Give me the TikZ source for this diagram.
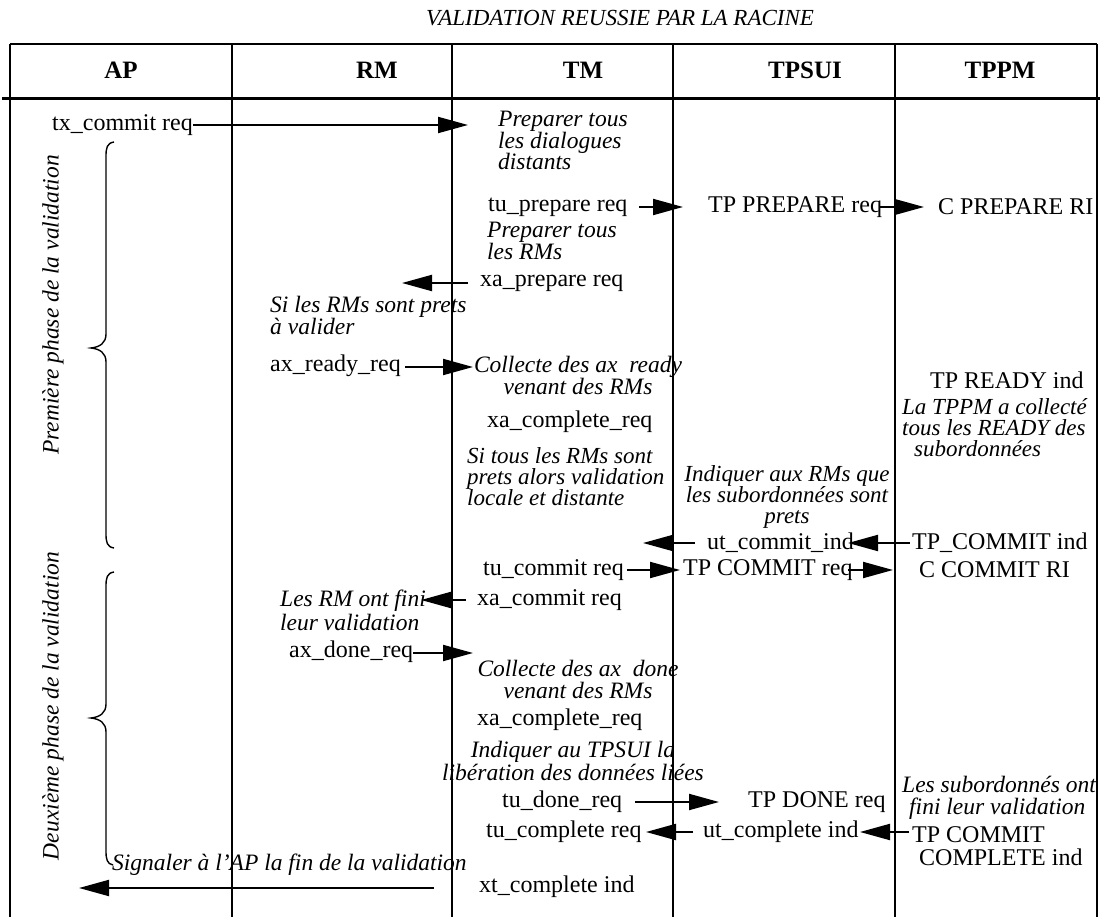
\documentclass[tikz,border=0pt]{standalone}
\usepackage{fontspec}
\setmainfont{Liberation Serif}
\usetikzlibrary{arrows.meta}
\begin{document}
\begin{tikzpicture}[x=1pt,y=-1pt,
  rm/.style={font=\fontsize{24}{23}\selectfont, inner sep=0pt},
  itx/.style={font=\fontsize{23.5}{21.5}\selectfont\itshape, inner sep=0pt},
  itt/.style={font=\fontsize{23}{21}\selectfont\itshape, inner sep=0pt},
  hd/.style={font=\fontsize{25}{25}\selectfont\bfseries, inner sep=0pt},
  ttl/.style={font=\fontsize{23}{23}\selectfont\itshape, inner sep=0pt},
  gridline/.style={line width=2pt},
  arr/.style={line width=2pt,-{Triangle[length=30pt,width=16pt]}},
  brc/.style={line width=1.4pt}]
\useasboundingbox (0,0) rectangle (1104,917);

% title
\node[ttl] (title) at (620,18) {VALIDATION REUSSIE PAR LA RACINE};

% table frame
\coordinate (tl) at (10,44);   \coordinate (tr) at (1097,44);
\coordinate (sl) at (2,99);  \coordinate (sr) at (1100,99);
\draw[gridline] (tl) -- (tr);
\draw[line width=3pt] (sl) -- (sr);
\foreach \x/\n in {10/c0,232/c1,452/c2,673/c3,895/c4,1097/c5}{
  \coordinate (\n t) at (\x,44); \coordinate (\n b) at (\x,917);
  \draw[gridline] (\n t) -- (\n b);
}

% headers
\node[hd] (hAP) at (121,70) {AP};
\node[hd] (hRM) at (377,70) {RM};
\node[hd] (hTM) at (583,70) {TM};
\node[hd] (hTPSUI) at (805,70) {TPSUI};
\node[hd] (hTPPM) at (1000,70) {TPPM};

% phases
\node[itx,rotate=90] (ph1) at (53,305) {Première phase de la validation};
\node[itx,rotate=90] (ph2) at (53,706) {Deuxième phase de la validation};
\draw[brc] (114,142) .. controls (107,143) and (106,148) .. (106,156) -- (106,334)
  .. controls (106,343) and (100,347) .. (91,348) .. controls (100,349) and (106,353) .. (106,362)
  -- (106,534) .. controls (106,542) and (107,547) .. (114,548);
\draw[brc] (114,572) .. controls (107,573) and (106,578) .. (106,586) -- (106,704)
  .. controls (106,713) and (100,717) .. (91,718) .. controls (100,719) and (106,723) .. (106,732)
  -- (106,851) .. controls (106,859) and (107,864) .. (113,865);

% row 1
\node[rm,anchor=west] (txc) at (52,125) {tx\_commit req};
\coordinate (a1e) at (468,125);
\draw[arr] (txc.east) -- (a1e);
\node[itx,anchor=north west,align=left] (prep1) at (498,111) {Preparer tous\\les dialogues\\distants};

% row tu_prepare
\node[rm,anchor=west] (tup) at (488,207) {tu\_prepare req};
\coordinate (a2s) at (639,207); \coordinate (a2e) at (683,207);
\draw[arr] (a2s) -- (a2e);
\node[rm,anchor=west] (tpp) at (708,207) {TP PREPARE req};
\coordinate (a3s) at (879,207); \coordinate (a3e) at (924,207);
\draw[arr] (a3s) -- (a3e);
\node[rm,anchor=west] (cpr) at (938,207) {C PREPARE RI};

\node[itx,anchor=north west,align=left] (prep2) at (487,222) {Preparer tous\\les RMs};
\node[rm,anchor=west] (xap) at (480,283) {xa\_prepare req};
\coordinate (a4s) at (468,283); \coordinate (a4e) at (402,283);
\draw[arr] (a4s) -- (a4e);

\node[itx,anchor=north west,align=left] (sirm) at (270,296) {Si les RMs sont prets\\à valider};
\node[rm,anchor=west] (axr) at (270,366) {ax\_ready\_req};
\coordinate (a5s) at (405,367); \coordinate (a5e) at (473,367);
\draw[arr] (a5s) -- (a5e);
\node[itx,anchor=north,align=center] (col1) at (578,356) {Collecte des ax~ ready\\venant des RMs};
\node[rm,anchor=west] (tpr) at (930,380) {TP READY ind};
\node[itx,anchor=north west,align=left,font=\fontsize{23}{21}\selectfont\itshape] (tppm) at (902,398) {La TPPM a collecté\\tous les READY des\\\hspace*{12pt}subordonnées};
\node[rm,anchor=west] (xac1) at (487,422) {xa\_complete\_req};

\node[itt,anchor=north west,align=left] (sitous) at (467,447) {Si tous les RMs sont\\prets alors validation\\locale et distante};
\node[itt,anchor=north,align=center] (indrm) at (787,465) {Indiquer aux RMs que\\les subordonnées sont\\prets};

\node[rm,anchor=west] (utc) at (707,543) {ut\_commit\_ind};
\node[rm,anchor=west] (tpc) at (912,543) {TP\_COMMIT ind};
\coordinate (a6s) at (910,543); \coordinate (a6e) at (848,543);
\draw[arr] (a6s) -- (a6e);
\coordinate (a7s) at (695,543); \coordinate (a7e) at (643,543);
\draw[arr] (a7s) -- (a7e);

\node[rm,anchor=west] (tuc) at (483,570) {tu\_commit req};
\coordinate (a8s) at (627,570); \coordinate (a8e) at (680,570);
\draw[arr] (a8s) -- (a8e);
\node[rm,anchor=west] (tpcr) at (683,570) {TP COMMIT req};
\coordinate (a9s) at (848,570); \coordinate (a9e) at (893,570);
\draw[arr] (a9s) -- (a9e);
\node[rm,anchor=west] (ccr) at (919,570) {C COMMIT RI};

\node[rm,anchor=west] (xacm) at (477,600) {xa\_commit req};
\coordinate (a10s) at (466,600); \coordinate (a10e) at (421,600);
\draw[arr] (a10s) -- (a10e);
\node[itx,anchor=north west,align=left,font=\fontsize{23.5}{24}\selectfont\itshape] (lesrm) at (280,590) {Les RM ont fini\\leur validation};

\node[rm,anchor=west] (axd) at (289,652) {ax\_done\_req};
\coordinate (a11s) at (413,653); \coordinate (a11e) at (473,653);
\draw[arr] (a11s) -- (a11e);
\node[itx,anchor=north,align=center] (col2) at (578,660) {Collecte des ax~ done\\venant des RMs};
\node[rm,anchor=west] (xac2) at (477,720) {xa\_complete\_req};
\node[itx,anchor=north,align=center,font=\fontsize{23.5}{22.5}\selectfont\itshape] (indtp) at (573,741) {Indiquer au TPSUI la\\libération des données liées};

\node[rm,anchor=west] (tud) at (502,802) {tu\_done\_req};
\coordinate (a12s) at (635,802); \coordinate (a12e) at (719,802);
\draw[arr] (a12s) -- (a12e);
\node[rm,anchor=west] (tpd) at (748,802) {TP DONE req};
\node[itx,anchor=north west,align=left] (lessub) at (902,776) {Les subordonnés ont\\\hspace*{7pt}fini leur validation};

\node[rm,anchor=west] (tucp) at (486,832) {tu\_complete req};
\coordinate (a13s) at (693,832); \coordinate (a13e) at (646,832);
\draw[arr] (a13s) -- (a13e);
\node[rm,anchor=west] (utcp) at (703,832) {ut\_complete ind};
\coordinate (a14s) at (909,832); \coordinate (a14e) at (860,832);
\draw[arr] (a14s) -- (a14e);
\node[rm,anchor=north west,align=left] (tpcc) at (912,826) {TP COMMIT\\\hspace*{7pt}COMPLETE ind};

\node[itx,anchor=west] (sig) at (112,865) {Signaler à l'AP la fin de la validation};
\node[rm,anchor=west] (xtc) at (479,887) {xt\_complete ind};
\coordinate (a15s) at (434,888); \coordinate (a15e) at (79,888);
\draw[arr] (a15s) -- (a15e);
\end{tikzpicture}
\end{document}
